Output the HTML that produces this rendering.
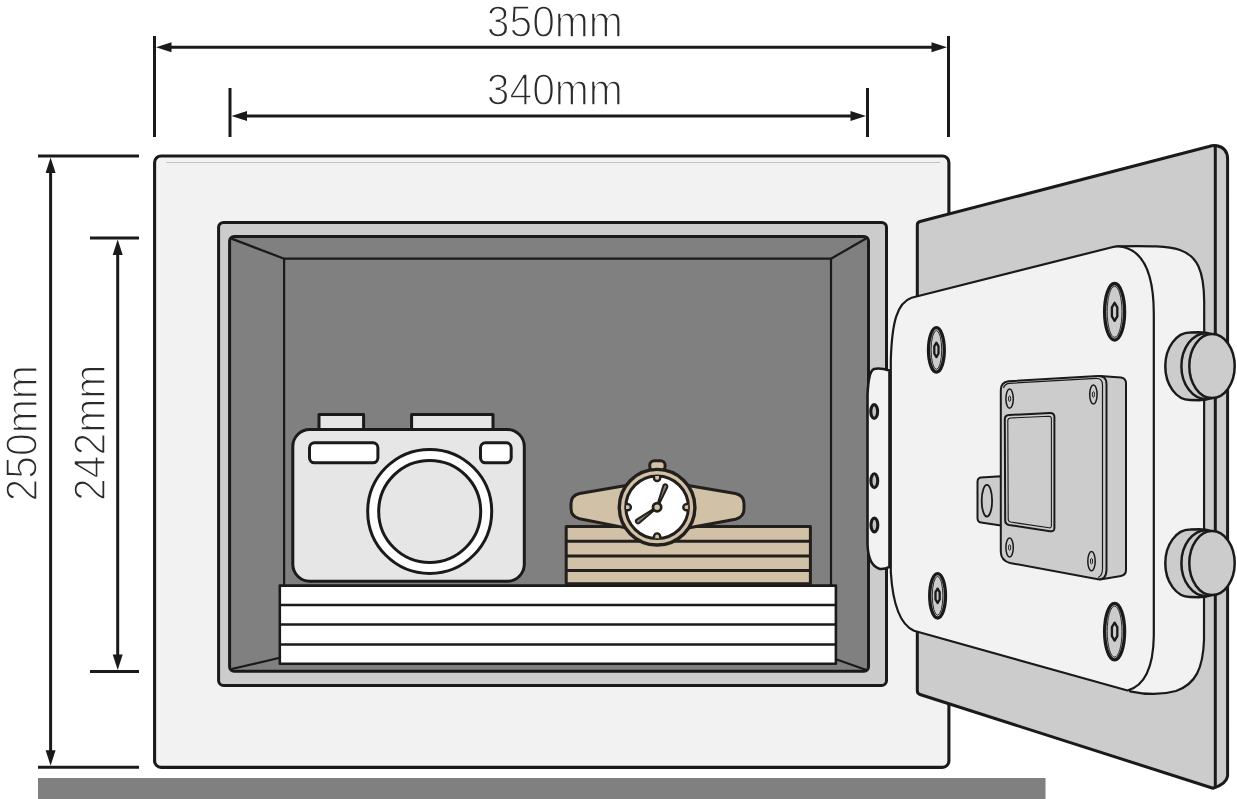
<!DOCTYPE html>
<html><head><meta charset="utf-8"><title>Safe dimensions</title>
<style>
html,body{margin:0;padding:0;background:#fff;}
body{width:1237px;height:799px;overflow:hidden;font-family:"Liberation Sans",sans-serif;}
svg{display:block}
.k{stroke:#1a1a1a;stroke-linejoin:round;stroke-linecap:butt}
.t{font-family:"Liberation Sans",sans-serif;font-size:43.6px;fill:#2b2b2b;stroke:#fff;stroke-width:1.45px;}
</style></head><body>
<svg width="1237" height="799" viewBox="0 0 1237 799">
<rect width="1237" height="799" fill="#fff"/>

<!-- floor -->
<rect x="38" y="778" width="1007.5" height="22" fill="#808080"/>

<!-- dimension lines -->
<g class="k" fill="none" stroke-width="3">
  <line x1="154.5" y1="36" x2="154.5" y2="137"/>
  <line x1="948.5" y1="36" x2="948.5" y2="137"/>
  <line x1="168" y1="47.2" x2="935" y2="47.2"/>
  <line x1="230" y1="88" x2="230" y2="137"/>
  <line x1="867.5" y1="88" x2="867.5" y2="137"/>
  <line x1="243" y1="116" x2="854" y2="116"/>
  <line x1="38" y1="156" x2="139" y2="156"/>
  <line x1="38" y1="767.2" x2="139" y2="767.2"/>
  <line x1="50.6" y1="170" x2="50.6" y2="753"/>
  <line x1="90" y1="238" x2="139" y2="238"/>
  <line x1="90" y1="671.4" x2="139" y2="671.4"/>
  <line x1="117.7" y1="252" x2="117.7" y2="657"/>
</g>
<g fill="#1a1a1a">
  <path d="M156 47.2 L171.500 42.200 L171.500 52.200Z"/>
  <path d="M947 47.2 L931.5 42.2 L931.5 52.2Z"/>
  <path d="M231.500 116 L247 111 L247 121Z"/>
  <path d="M866 116 L850.5 111 L850.5 121Z"/>
  <path d="M50.6 157.500 L45.6 173 L55.6 173Z"/>
  <path d="M50.6 765.7 L45.6 750.2 L55.6 750.2Z"/>
  <path d="M117.7 239.500 L112.7 255 L122.7 255Z"/>
  <path d="M117.7 669.9 L112.7 654.4 L122.7 654.4Z"/>
</g>

<!-- dimension text -->
<g opacity="0.999">
<text class="t" transform="translate(554.8,36.5) scale(0.937,1)" text-anchor="middle">350mm</text>
<text class="t" transform="translate(554.8,105.2) scale(0.937,1)" text-anchor="middle">340mm</text>
<text class="t" transform="translate(37.0,433.3) rotate(-90) scale(0.937,1)" text-anchor="middle">250mm</text>
<text class="t" transform="translate(104.7,432.8) rotate(-90) scale(0.937,1)" text-anchor="middle">242mm</text>
</g>

<!-- SAFE BODY -->
<rect class="k" x="154.600" y="156" width="794.3" height="611.4" rx="6.500" fill="#f2f2f2" stroke-width="3.100"/>
<line x1="166" y1="162.5" x2="940" y2="162.5" stroke="#b8b8b8" stroke-width="0.8"/>
<rect class="k" x="218.600" y="222.400" width="667.9" height="463.1" rx="5" fill="#cccccc" stroke-width="3"/>
<rect class="k" x="229.600" y="236.500" width="638.9" height="434.800" rx="4.500" fill="#808080" stroke-width="3"/>
<!-- back wall -->
<g class="k" fill="none" stroke-width="2.2">
  <rect x="284.100" y="258.700" width="546.9" height="400"/>
  <line x1="231.500" y1="238.600" x2="284.100" y2="258.700"/>
  <line x1="866.500" y1="238.300" x2="831" y2="258.700"/>
  <line x1="231.500" y1="669" x2="284.100" y2="656.800"/>
  <line x1="866.500" y1="670" x2="831" y2="657.500"/>
</g>
<!-- paper stack -->
<g class="k" stroke-width="2.6">
  <rect x="279.800" y="585.600" width="556.1" height="78.100" fill="#fff"/>
  <line x1="279.800" y1="605" x2="835.9" y2="605"/>
  <line x1="279.800" y1="624.500" x2="835.9" y2="624.5"/>
  <line x1="279.800" y1="644.500" x2="835.9" y2="644.5"/>
</g>
<!-- camera -->
<g class="k" stroke-width="3">
  <rect x="319" y="414.500" width="44.6" height="18" fill="#e6e6e6"/>
  <rect x="411.600" y="414.500" width="81.4" height="18" fill="#e6e6e6"/>
  <rect x="292.800" y="429.500" width="231.5" height="151.7" rx="17" fill="#e6e6e6"/>
  <rect x="309.500" y="442.800" width="68.4" height="20" rx="5" fill="#fff"/>
  <rect x="480.500" y="442.800" width="30.7" height="20" rx="5" fill="#fff"/>
  <circle cx="429.700" cy="511.400" r="62" fill="#fff"/>
  <circle cx="429.700" cy="511.400" r="51" fill="#e6e6e6"/>
</g>
<!-- tan stack -->
<g stroke="#231f1c" stroke-linejoin="round" stroke-width="3">
  <rect x="566.200" y="526.400" width="244.2" height="57.3" fill="#d0c1a7"/>
  <line x1="566.200" y1="541.200" x2="810.4" y2="541.2"/>
  <line x1="566.200" y1="555.900" x2="810.4" y2="555.9"/>
  <line x1="566.200" y1="570.600" x2="810.4" y2="570.6"/>
</g>
<!-- watch -->
<g stroke="#231f1c" stroke-linejoin="round" stroke-width="3" fill="#d0c1a7">
  <path d="M626 485.600 L579.500 493.500 Q571 495.500 571 503.500 L571 508.500 Q571 516.500 579.500 518.700 L626 527.900Z"/>
  <path d="M688 485.600 L735.500 493.500 Q744 495.500 744 503.500 L744 509 Q744 517 735.500 519.200 L688 527.900Z"/>
  <rect x="649.700" y="460.800" width="15.400" height="10" rx="4.500"/>
  <circle cx="657.100" cy="507.200" r="37.800" stroke-width="3.400"/>
  <circle cx="657.100" cy="507.200" r="31.300" fill="#fff"/>
  <path d="M654.0 476.1 L654.0 477.9 A3.1 3.1 0 0 0 660.2 477.9 L660.2 476.1" stroke-width="2.4"/>
  <path d="M688.2 504.1 L686.4 504.1 A3.1 3.1 0 0 0 686.4 510.3 L688.2 510.3" stroke-width="2.4"/>
  <path d="M660.2 538.3 L660.2 536.5 A3.1 3.1 0 0 0 654.0 536.5 L654.0 538.3" stroke-width="2.4"/>
  <path d="M626.0 510.3 L627.8 510.3 A3.1 3.1 0 0 0 627.8 504.1 L626.0 504.1" stroke-width="2.4"/>
  <path d="M657.47 507.35 L667.24 487.23 A2.1 2.1 0 0 0 663.33 485.69 L656.73 507.05Z" fill="#8a8073" stroke-width="2"/>
  <path d="M656.86 506.88 L636.70 519.63 A2.1 2.1 0 0 0 639.19 523.01 L657.34 507.52Z" fill="#8a8073" stroke-width="2"/>
  <circle cx="657.100" cy="507.200" r="4.100" stroke-width="2.700"/>
</g>
<!--CONTENTS_END-->
<!-- door slab -->
<path class="k" stroke-width="3" fill="#cccccc" d="M917.300 225 Q917.300 222.200 920 221.500 L1209 146.500 Q1213 145.200 1217 145.800 Q1227.600 148 1227.600 159 L1227.600 776 Q1226.500 784 1213 788.200 L920 694.500 Q917.300 693.600 917.300 690.500 Z"/>
<line class="k" x1="1215.300" y1="146" x2="1215.300" y2="788" stroke-width="3"/>
<!-- hinge plate -->
<path class="k" stroke-width="2.600" fill="#f2f2f2" d="M889.500 370.500 Q880 367.500 874 369 Q868.500 371 867.500 395 L867.500 545 Q868.500 566 880 569 Q885 569.300 889.500 566.800 Z"/>
<g class="k" stroke-width="3.100" fill="#c4c4c4">
  <ellipse cx="874.200" cy="411.500" rx="3.400" ry="6.900"/>
  <ellipse cx="874.300" cy="480.700" rx="3.400" ry="6.900"/>
  <ellipse cx="874.400" cy="525" rx="3.400" ry="6.900"/>
</g>
<!-- inner panel: side (depth) -->
<path class="k" stroke-width="2.200" fill="#f2f2f2" d="M1117.500 246.300 C1150 245.800 1168 246 1180 250 C1197 256 1204 270 1204.200 302 L1204 640 C1203 668 1196 684 1176 691 C1160 695.500 1145 694.500 1130 691.300 Z"/>
<!-- inner panel: front face -->
<path class="k" stroke-width="2.200" fill="#f2f2f2" d="M911.500 297.800 L1112 247.200 Q1117.500 245.800 1123 247 C1146 252 1153.800 280 1153.800 314 L1153.800 636 C1153.300 668 1144 686 1127.500 690.500 L914 630.800 C899 624 892.500 600 890.800 572 L890.800 360 C892 322 897 303 911.500 297.800 Z"/>
<!-- big screws -->
<g class="k" fill="#cccccc">
  <ellipse cx="936.4" cy="349.9" rx="7.9" ry="22.2" stroke-width="3.3"/>
  <ellipse cx="936.4" cy="349.9" rx="5.3" ry="19.4" stroke-width="0.9" fill="none"/>
  <path d="M936.4 342.7 L938.5 346.3 L938.5 353.5 L936.4 357.09999999999997 L934.3 353.5 L934.3 346.3Z" stroke-width="2.3"/>
  <ellipse cx="937.6" cy="595.8" rx="7.9" ry="22.2" stroke-width="3.3"/>
  <ellipse cx="937.6" cy="595.8" rx="5.3" ry="19.4" stroke-width="0.9" fill="none"/>
  <path d="M937.6 588.5999999999999 L939.7 592.2 L939.7 599.4 L937.6 603.0 L935.5 599.4 L935.5 592.2Z" stroke-width="2.3"/>
  <ellipse cx="1114.6" cy="311.8" rx="10.0" ry="28.3" stroke-width="3.3"/>
  <ellipse cx="1114.6" cy="311.8" rx="7.4" ry="25.5" stroke-width="0.9" fill="none"/>
  <path d="M1114.6 302.8 L1117.3 307.3 L1117.3 316.3 L1114.6 320.8 L1111.8999999999999 316.3 L1111.8999999999999 307.3Z" stroke-width="2.3"/>
  <ellipse cx="1114.6" cy="631.6" rx="10.0" ry="28.3" stroke-width="3.3"/>
  <ellipse cx="1114.6" cy="631.6" rx="7.4" ry="25.5" stroke-width="0.9" fill="none"/>
  <path d="M1114.6 622.6 L1117.3 627.1 L1117.3 636.1 L1114.6 640.6 L1111.8999999999999 636.1 L1111.8999999999999 627.1Z" stroke-width="2.3"/>
</g>
<!-- lock box -->
<g class="k" fill="#cccccc" stroke-width="2">
  <!-- tab -->
  <path d="M1001 476.300 L981 477.500 Q977.500 478 977.500 482 L977.500 518 Q977.500 522 981 522.500 L1001 525.500Z"/>
  <ellipse cx="986.900" cy="500.700" rx="5.200" ry="15.800" stroke-width="1.800"/>
  <!-- side -->
  <path d="M1100 375.900 L1121 377.400 Q1126 378 1126 383.500 L1126 570 Q1126 575 1121 575.900 L1100 579.500Z"/>
  <!-- front -->
  <path d="M1000.800 390 Q1000.800 382.200 1008.500 381.200 L1098 375.900 Q1106.500 375.600 1106.500 384 L1106.500 570 Q1106 580.500 1098 579.200 L1010 563 Q1001 560.500 1000.800 552 Z"/>
  <path d="M1003.500 388 Q1004.500 384 1009 383.300 L1096 378.300 Q1102.500 378.100 1102.500 385 L1102.500 569 Q1102.300 576 1098 577.500" stroke-width="1.200" fill="none"/>
  <!-- window -->
  <path d="M1004.800 419.300 Q1004.800 415.300 1009 415 L1050 413 Q1054.400 412.900 1054.400 417 L1054.400 528 Q1054.400 532 1050 531.200 L1009 525 Q1005.200 524.200 1005.200 520.500 Z"/>
  <path d="M1007.800 420.800 Q1007.800 418.200 1010.500 418 L1049 416.200 Q1051.400 416.200 1051.400 418.800 L1051.400 525.500 Q1051.400 528.200 1049 527.800 L1010.500 522 Q1008.200 521.500 1008.200 519 Z" stroke-width="1.100" fill="none"/>
  <!-- small screws -->
  <g stroke-width="1.500">
    <ellipse cx="1009.600" cy="398.700" rx="3.700" ry="9.600"/><ellipse cx="1009.600" cy="398.700" rx="1.100" ry="2.800" stroke-width="1"/>
    <ellipse cx="1093.400" cy="394.500" rx="3.700" ry="9.600"/><ellipse cx="1093.400" cy="394.500" rx="1.100" ry="2.800" stroke-width="1"/>
    <ellipse cx="1009.600" cy="547.500" rx="3.700" ry="9.600"/><ellipse cx="1009.600" cy="547.500" rx="1.100" ry="2.800" stroke-width="1"/>
    <ellipse cx="1091.500" cy="561.200" rx="3.700" ry="9.600"/><ellipse cx="1091.500" cy="561.200" rx="1.100" ry="2.800" stroke-width="1"/>
  </g>
</g>
<!-- bolts -->
<g class="k" fill="#cccccc" stroke-width="2.500">
  <path d="M1212 334.1 Q1206 332.3 1199 332.3 L1190 332.5 A24.7 33.75 0 0 0 1190 400.0 L1199 400.2 Q1206 400.0 1212 398.1Z"/>
  <path d="M1206.4 333.2 A25 33 0 0 0 1206.4 399.2" fill="none"/>
  <ellipse cx="1212" cy="366.1" rx="22.700" ry="32"/>
  <path d="M1212 531.1 Q1206 529.3 1199 529.3 L1190 529.5 A24.7 33.75 0 0 0 1190 597.0 L1199 597.2 Q1206 597.0 1212 595.1Z"/>
  <path d="M1206.4 530.2 A25 33 0 0 0 1206.4 596.2" fill="none"/>
  <ellipse cx="1212" cy="563.1" rx="22.700" ry="32"/>
</g>
<!--DOOR_END-->
</svg>
</body></html>
